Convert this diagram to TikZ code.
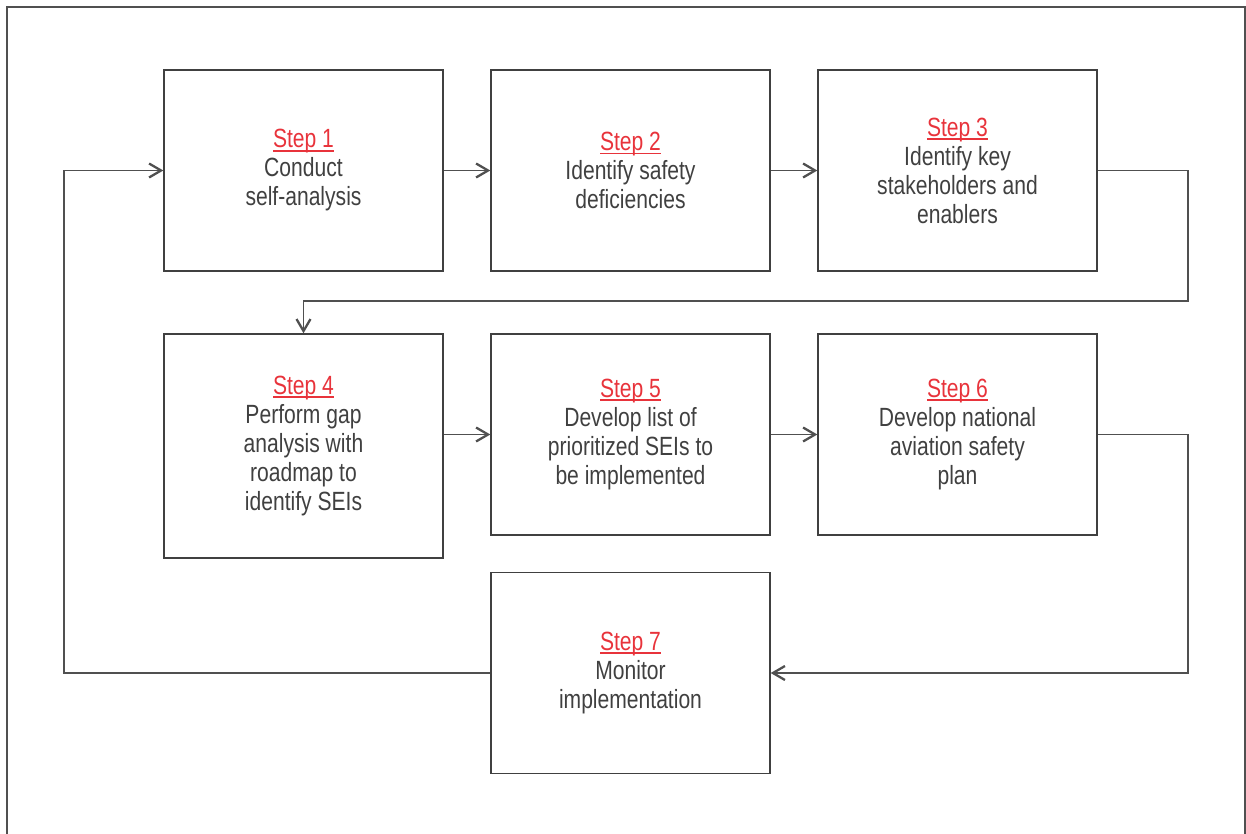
\documentclass[tikz,border=0pt]{standalone}
\usepackage{fontspec}
\setmainfont[FakeStretch=0.8]{Liberation Sans}
\usetikzlibrary{arrows.meta}
\definecolor{txtgray}{HTML}{404040}
\definecolor{linegray}{HTML}{505050}
\definecolor{stepred}{HTML}{E8333B}
\newcommand{\steplabel}[1]{\textcolor{stepred}{\setbox0\hbox{Step #1}\rlap{\usebox0}\rule[-2.1pt]{\wd0}{1pt}}}
\tikzset{
	stepbox/.style={draw=txtgray, line width=0.8pt, minimum width=5.58cm, minimum height=4.02cm,
		align=center, text=txtgray, font=\fontsize{15}{16.5}\selectfont},
	arr/.style={draw=linegray, line width=0.7pt, -{Straight Barb[length=2.4mm,width=2.8mm,line width=1.3pt]}}
}
\begin{document}
\begin{tikzpicture}[x=0.02cm,y=-0.02cm]
	\useasboundingbox (0,0) rectangle (1246,834);
	\draw[linegray, line width=0.9pt] (7,834) -- (7,7) -- (1245,7) -- (1245,834);
	
	\node[stepbox] (s1) at (303.5,170.5) {\steplabel{1}\\Conduct\\self-analysis};
	\node[stepbox] (s2) at (630.5,170.5) {\steplabel{2}\\Identify safety\\deficiencies};
	\node[stepbox] (s3) at (957.5,170.5) {\steplabel{3}\\Identify key\\stakeholders and\\enablers};
	\node[stepbox, minimum height=4.48cm] (s4) at (303.5,446) {\steplabel{4}\\Perform gap\\analysis with\\roadmap to\\identify SEIs};
	\node[stepbox] (s5) at (630.5,434.5) {\steplabel{5}\\Develop list of\\prioritized SEIs to\\be implemented};
	\node[stepbox] (s6) at (957.5,434.5) {\steplabel{6}\\Develop national\\aviation safety\\plan};
	\node[stepbox] (s7) at (630.5,673) {\steplabel{7}\\Monitor\\implementation};
	
	\coordinate (r1) at (1188,301);
	\coordinate (r2) at (1188,673);
	\coordinate (l1) at (64,673);
	
	\draw[arr] (s1) -- (s2);
	\draw[arr] (s2) -- (s3);
	\draw[arr] (s3.east) -| (r1) -| (s4.north);
	\draw[arr] (s4.east |- s5.west) -- (s5.west);
	\draw[arr] (s5) -- (s6);
	\draw[arr] (s6.east) -| (r2) -- (s7.east);
	\draw[arr] (s7.west) -- (l1) |- (s1.west);
\end{tikzpicture}
\end{document}
